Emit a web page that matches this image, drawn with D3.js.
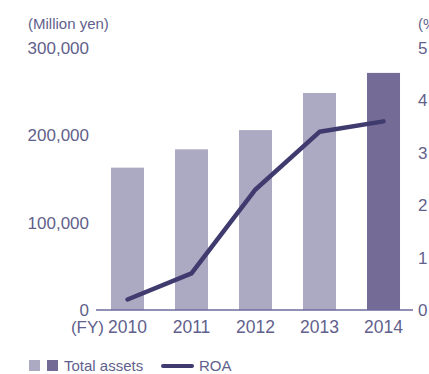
<!DOCTYPE html>
<html>
<head>
<meta charset="utf-8">
<script src="https://cdn.jsdelivr.net/npm/d3@7"></script>
<style>
  html, body { margin: 0; padding: 0; background: #fff; }
  svg { display: block; font-family: "Liberation Sans", Arial, sans-serif; }
</style>
</head>
<body>
<div id="chart"></div>
<script>
// Total assets (million yen) and ROA (%) by fiscal year
const years = ['2010', '2011', '2012', '2013', '2014'];
const totalAssets = [163000, 184000, 206000, 248500, 271500];
const roa = [0.2, 0.7, 2.3, 3.4, 3.6];
const assetTicks = [0, 100000, 200000, 300000];
const roaTicks = [0, 1, 2, 3, 4, 5];

const W = 429, H = 374;
const TEXT = '#625f8c';
const BAR_LIGHT = '#aca9c2';
const BAR_DARK = '#746c96';
const LINE = '#3f3b6f';
const FONT = '"Liberation Sans", Arial, sans-serif';

const svg = d3.select('#chart').append('svg').attr('width', W).attr('height', H);

// title, mostly cut off at the top edge
svg.append('text')
  .attr('x', 27).attr('y', -3)
  .attr('fill', '#b3b1c9').style('font-size', '22px')
  .text('Total assets and ROA');

const x = d3.scaleBand().domain(years).range([95.5, 415.5])
  .paddingInner(0.484).paddingOuter(0.242);
const y = d3.scaleLinear().domain([0, 300000]).range([310, 48]);
const yR = d3.scaleLinear().domain([0, 5]).range([310, 48]);

// unit labels
svg.append('text').attr('x', 28).attr('y', 29)
  .attr('fill', TEXT).style('font-size', '15px').text('(Million yen)');
svg.append('text').attr('x', 418).attr('y', 29)
  .attr('fill', TEXT).style('font-size', '15px').text('(%)');

// left axis
const gl = svg.append('g').attr('transform', 'translate(89,0)')
  .call(d3.axisLeft(y).tickValues(assetTicks).tickSize(0).tickPadding(0)
    .tickFormat(d3.format(',')));
gl.select('.domain').remove();
gl.selectAll('text').attr('fill', TEXT).style('font-size', '17px').style('font-family', FONT);

// right axis
const gr = svg.append('g').attr('transform', 'translate(418,0)')
  .call(d3.axisRight(yR).tickValues(roaTicks).tickSize(0).tickPadding(0)
    .tickFormat(d3.format('d')));
gr.select('.domain').remove();
gr.selectAll('text').attr('fill', TEXT).style('font-size', '17px').style('font-family', FONT);

// bars
svg.append('g').selectAll('rect')
  .data(years)
  .join('rect')
  .attr('x', d => x(d))
  .attr('width', x.bandwidth())
  .attr('y', (d, i) => y(totalAssets[i]))
  .attr('height', (d, i) => y(0) - y(totalAssets[i]))
  .attr('fill', (d, i) => i === years.length - 1 ? BAR_DARK : BAR_LIGHT);

// baseline
svg.append('line')
  .attr('x1', 96).attr('x2', 413)
  .attr('y1', y(0)).attr('y2', y(0))
  .attr('stroke', '#6d6a9a').attr('stroke-width', 1.3);

// ROA line
const line = d3.line()
  .x((d, i) => x(years[i]) + x.bandwidth() / 2)
  .y(d => yR(d));
svg.append('path')
  .datum(roa)
  .attr('d', line)
  .attr('fill', 'none')
  .attr('stroke', LINE)
  .attr('stroke-width', 4.5)
  .attr('stroke-linecap', 'round')
  .attr('stroke-linejoin', 'round');

// year labels
svg.append('g').selectAll('text')
  .data(years)
  .join('text')
  .attr('x', d => x(d) + x.bandwidth() / 2)
  .attr('y', 333)
  .attr('text-anchor', 'middle')
  .attr('fill', TEXT).style('font-size', '17.5px')
  .text(d => d);
svg.append('text').attr('x', 104).attr('y', 333)
  .attr('text-anchor', 'end')
  .attr('fill', TEXT).style('font-size', '17px').text('(FY)');

// legend
const lg = svg.append('g');
lg.append('rect').attr('x', 29).attr('y', 360).attr('width', 11).attr('height', 11).attr('fill', BAR_LIGHT);
lg.append('rect').attr('x', 47).attr('y', 360).attr('width', 11).attr('height', 11).attr('fill', BAR_DARK);
lg.append('text').attr('x', 64).attr('y', 371)
  .attr('fill', TEXT).style('font-size', '15px').text('Total assets');
lg.append('line').attr('x1', 163).attr('x2', 192).attr('y1', 366).attr('y2', 366)
  .attr('stroke', LINE).attr('stroke-width', 4).attr('stroke-linecap', 'round');
lg.append('text').attr('x', 199).attr('y', 371)
  .attr('fill', TEXT).style('font-size', '15px').text('ROA');
</script>
</body>
</html>
